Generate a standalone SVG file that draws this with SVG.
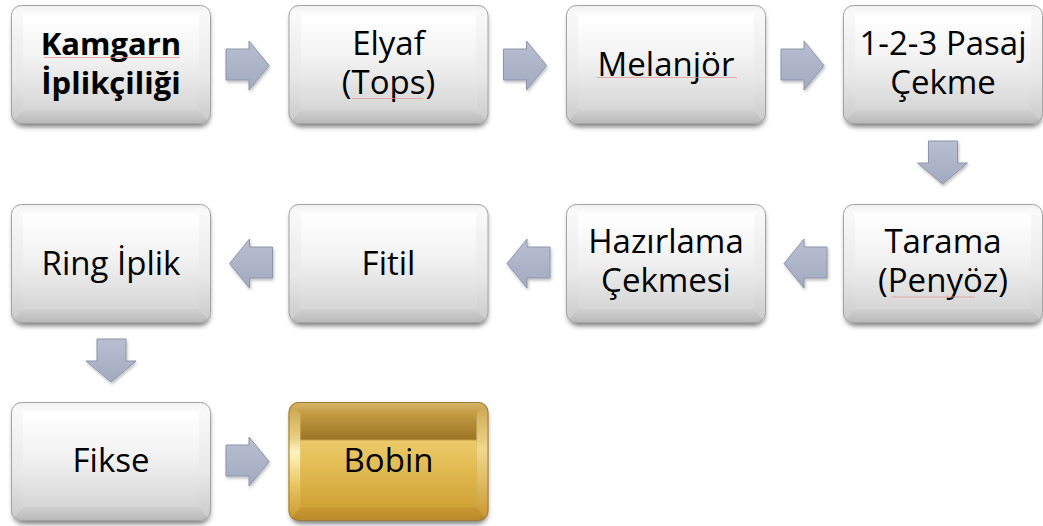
<svg xmlns="http://www.w3.org/2000/svg" xmlns:xlink="http://www.w3.org/1999/xlink" width="1043" height="526" viewBox="0 0 1043 526">
  <style>
    .label { font-family: "Open Sans", "Liberation Sans", sans-serif; font-size: 33px; fill: #000; text-anchor: middle; }
    .bold { font-weight: bold; font-size: 31px; }
    .arrow { fill: url(#arrowFill); stroke: #8d95ab; stroke-width: 1; filter: url(#arrowShadow); }
    .squiggle { stroke: #e39a9a; stroke-width: 1; opacity: 0.8; }
  </style>
  <defs>
    <filter id="boxShadow" x="-10%" y="-10%" width="120%" height="130%">
      <feGaussianBlur stdDeviation="2.5"/>
    </filter>
    <filter id="arrowShadow" x="-20%" y="-20%" width="150%" height="150%">
      <feDropShadow dx="1" dy="2" stdDeviation="1.5" flood-color="#000" flood-opacity="0.25"/>
    </filter>
    <linearGradient id="arrowFill" x1="0" y1="0" x2="0" y2="1">
      <stop offset="0" stop-color="#b9bfd1"/>
      <stop offset="1" stop-color="#a2aac0"/>
    </linearGradient>

    <!-- silver bevel -->
    <linearGradient id="sFace" x1="0" y1="0" x2="0" y2="1">
      <stop offset="0" stop-color="#ffffff"/>
      <stop offset="0.45" stop-color="#f2f2f2"/>
      <stop offset="1" stop-color="#d6d6d6"/>
    </linearGradient>
    <linearGradient id="sTop" x1="0" y1="0" x2="0" y2="1">
      <stop offset="0" stop-color="#f0f0f0"/>
      <stop offset="1" stop-color="#ffffff"/>
    </linearGradient>
    <linearGradient id="sSide" x1="0" y1="0" x2="0" y2="1">
      <stop offset="0" stop-color="#fbfbfb"/>
      <stop offset="0.6" stop-color="#e8e8e8"/>
      <stop offset="1" stop-color="#c9c9c9"/>
    </linearGradient>
    <linearGradient id="sBottom" x1="0" y1="0" x2="0" y2="1">
      <stop offset="0" stop-color="#d0d0d0"/>
      <stop offset="1" stop-color="#b8b8b8"/>
    </linearGradient>

    <!-- gold bevel -->
    <linearGradient id="gFace" x1="0" y1="0" x2="0" y2="1">
      <stop offset="0" stop-color="#c29a42"/>
      <stop offset="0.27" stop-color="#9c7627"/>
      <stop offset="0.29" stop-color="#ecca6a"/>
      <stop offset="0.55" stop-color="#e3bd55"/>
      <stop offset="1" stop-color="#cfa235"/>
    </linearGradient>
    <linearGradient id="gTop" x1="0" y1="0" x2="0" y2="1">
      <stop offset="0" stop-color="#d9b86a"/>
      <stop offset="1" stop-color="#c49a42"/>
    </linearGradient>
    <linearGradient id="gLeft" x1="0" y1="0" x2="0" y2="1">
      <stop offset="0" stop-color="#c7a04a"/>
      <stop offset="0.3" stop-color="#e8cf80"/>
      <stop offset="0.42" stop-color="#fff4c0"/>
      <stop offset="0.7" stop-color="#e8c560"/>
      <stop offset="1" stop-color="#c9962e"/>
    </linearGradient>
    <linearGradient id="gRight" x1="0" y1="0" x2="0" y2="1">
      <stop offset="0" stop-color="#c9a34e"/>
      <stop offset="0.4" stop-color="#f0d88e"/>
      <stop offset="1" stop-color="#c9962e"/>
    </linearGradient>
    <linearGradient id="gBottom" x1="0" y1="0" x2="0" y2="1">
      <stop offset="0" stop-color="#c99a32"/>
      <stop offset="1" stop-color="#b8882a"/>
    </linearGradient>

    <clipPath id="boxClip">
      <rect x="0" y="0" width="200" height="119" rx="10"/>
    </clipPath>

    <!-- bevelled silver tile, 200 x 119 -->
    <g id="silverBox">
      <rect x="2" y="4" width="197" height="118" rx="10" fill="#000" opacity="0.5" filter="url(#boxShadow)"/>
      <g clip-path="url(#boxClip)">
        <rect x="0" y="0" width="200" height="119" fill="#e6e6e6"/>
        <polygon points="0,0 200,0 188,12 12,12" fill="url(#sTop)"/>
        <polygon points="0,0 12,12 12,105 0,119" fill="url(#sSide)"/>
        <polygon points="200,0 188,12 188,105 200,119" fill="url(#sSide)"/>
        <polygon points="0,119 12,105 188,105 200,119" fill="url(#sBottom)"/>
        <rect x="12" y="12" width="176" height="93" fill="url(#sFace)"/>
      </g>
      <rect x="0.5" y="0.5" width="199" height="118" rx="10" fill="none" stroke="#a4a4a4" stroke-width="1"/>
    </g>

    <!-- bevelled gold tile, 200 x 119 -->
    <g id="goldBox">
      <rect x="2" y="4" width="197" height="118" rx="10" fill="#000" opacity="0.5" filter="url(#boxShadow)"/>
      <g clip-path="url(#boxClip)">
        <rect x="0" y="0" width="200" height="119" fill="#d2ab4e"/>
        <polygon points="0,0 200,0 188,12 12,12" fill="url(#gTop)"/>
        <polygon points="0,0 12,12 12,105 0,119" fill="url(#gLeft)"/>
        <polygon points="200,0 188,12 188,105 200,119" fill="url(#gRight)"/>
        <polygon points="0,119 12,105 188,105 200,119" fill="url(#gBottom)"/>
        <rect x="12" y="12" width="176" height="93" fill="url(#gFace)"/>
      </g>
      <rect x="0.5" y="0.5" width="199" height="118" rx="10" fill="none" stroke="#9c7c36" stroke-width="1"/>
    </g>

    <path id="arrowRight" d="M0,8 H23 V0 L43,24.5 L23,49 V39 H0 Z"/>
    <path id="arrowLeft" d="M43,8 H20 V0 L0,24.5 L20,49 V39 H43 Z"/>
    <path id="arrowDown" d="M11,0 H40 V22 H50 L25,43 L0,22 H11 Z"/>
  </defs>

  <rect width="1043" height="526" fill="#ffffff"/>

  <!-- connectors -->
  <g id="connectors">
    <use xlink:href="#arrowRight" class="arrow" x="226" y="41"/>
    <use xlink:href="#arrowRight" class="arrow" x="503.5" y="41"/>
    <use xlink:href="#arrowRight" class="arrow" x="781" y="41"/>
    <use xlink:href="#arrowDown" class="arrow" x="917.5" y="141"/>
    <use xlink:href="#arrowLeft" class="arrow" x="784" y="239"/>
    <use xlink:href="#arrowLeft" class="arrow" x="507" y="239"/>
    <use xlink:href="#arrowLeft" class="arrow" x="229.5" y="239"/>
    <use xlink:href="#arrowDown" class="arrow" x="86" y="339"/>
    <use xlink:href="#arrowRight" class="arrow" x="226" y="437"/>
  </g>

  <!-- row 1 -->
  <g id="node-kamgarn">
    <use xlink:href="#silverBox" x="11" y="5"/>
    <text class="label bold" x="111" y="55">Kamgarn</text>
    <text class="label bold" x="111" y="94">İplikçiliği</text>
    <line class="squiggle" x1="44" y1="57.5" x2="180" y2="57.5"/>
  </g>
  <g id="node-elyaf">
    <use xlink:href="#silverBox" x="288.5" y="5"/>
    <text class="label" x="388.5" y="55">Elyaf</text>
    <text class="label" x="388.5" y="94">(Tops)</text>
    <line class="squiggle" x1="352" y1="98.5" x2="423" y2="98.5"/>
  </g>
  <g id="node-melanjor">
    <use xlink:href="#silverBox" x="566" y="5"/>
    <text class="label" x="666" y="76">Melanjör</text>
    <line class="squiggle" x1="597" y1="77.5" x2="737" y2="77.5"/>
  </g>
  <g id="node-pasaj">
    <use xlink:href="#silverBox" x="843" y="5"/>
    <text class="label" x="943" y="55">1-2-3 Pasaj</text>
    <text class="label" x="943" y="94">Çekme</text>
  </g>

  <!-- row 2 -->
  <g id="node-tarama">
    <use xlink:href="#silverBox" x="843" y="204"/>
    <text class="label" x="943" y="253">Tarama</text>
    <text class="label" x="943" y="292">(Penyöz)</text>
    <line class="squiggle" x1="892" y1="297" x2="975" y2="297"/>
  </g>
  <g id="node-hazirlama">
    <use xlink:href="#silverBox" x="566" y="204"/>
    <text class="label" x="666" y="253">Hazırlama</text>
    <text class="label" x="666" y="292">Çekmesi</text>
  </g>
  <g id="node-fitil">
    <use xlink:href="#silverBox" x="288.5" y="204"/>
    <text class="label" x="388.5" y="275">Fitil</text>
  </g>
  <g id="node-ring">
    <use xlink:href="#silverBox" x="11" y="204"/>
    <text class="label" x="111" y="275">Ring İplik</text>
  </g>

  <!-- row 3 -->
  <g id="node-fikse">
    <use xlink:href="#silverBox" x="11" y="402"/>
    <text class="label" x="111" y="472">Fikse</text>
  </g>
  <g id="node-bobin">
    <use xlink:href="#goldBox" x="288.5" y="402"/>
    <text class="label" x="388.5" y="472">Bobin</text>
  </g>
</svg>
